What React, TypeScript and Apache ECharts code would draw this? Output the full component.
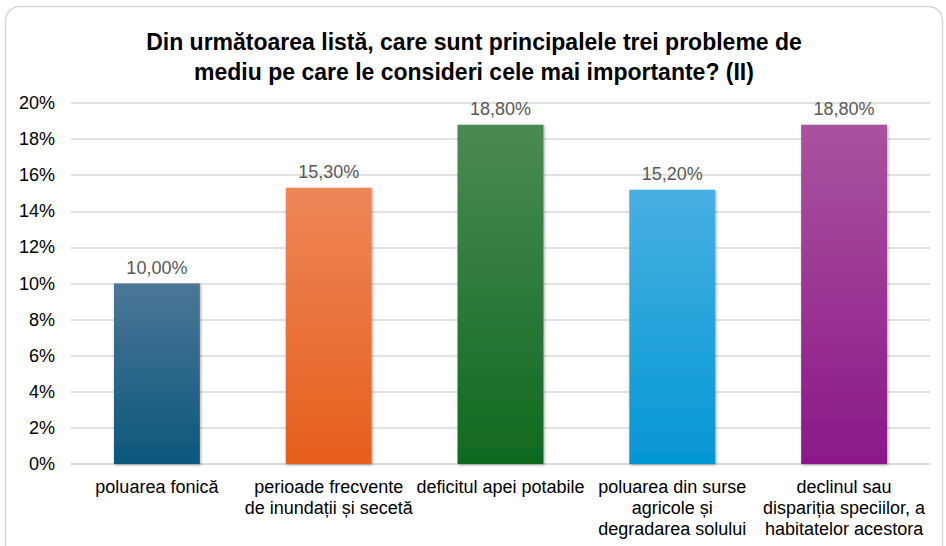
import React, { useEffect, useRef } from "react";
import * as echarts from "echarts";

const titleText = "Din următoarea listă, care sunt principalele trei probleme de\nmediu pe care le consideri cele mai importante? (II)";
const categories = [
  "poluarea fonică",
  "perioade frecvente\nde inundații și secetă",
  "deficitul apei potabile",
  "poluarea din surse\nagricole și\ndegradarea solului",
  "declinul sau\ndispariția speciilor, a\nhabitatelor acestora",
];
const values = [10.0, 15.3, 18.8, 15.2, 18.8];
const gradientTops = ["#4b7697", "#ee8658", "#4b8a53", "#48b0e2", "#aa529f"];
const gradientBottoms = ["#0b577c", "#e65f1c", "#0f6a1f", "#0497d4", "#8b1888"];

export default function App() {
  const ref = useRef<HTMLDivElement>(null);
  useEffect(() => {
    if (!ref.current) return;
    const chart = echarts.init(ref.current, null, { renderer: "svg" });
    const font = "'Liberation Sans', Arial, sans-serif";
    chart.setOption({
      animation: false,
      backgroundColor: "#ffffff",
      textStyle: { fontFamily: font },
      title: {
        text: titleText,
        left: 469,
        textAlign: "center",
        top: 22,
        textStyle: {
          fontFamily: font,
          fontSize: 23,
          fontWeight: "bold",
          color: "#000000",
          lineHeight: 30,
        },
      },
      graphic: [
        {
          type: "rect",
          shape: { x: 5.5, y: 6.5, width: 937, height: 560, r: 14 },
          style: { fill: "none", stroke: "#d9d9d9", lineWidth: 1.5 },
          silent: true,
          z: -1,
        },
      ],
      grid: { left: 71, right: 16, top: 103, bottom: 82 },
      xAxis: {
        type: "category",
        data: categories,
        axisLine: { lineStyle: { color: "#d9d9d9", width: 1.5 } },
        axisTick: { show: false },
        axisLabel: {
          interval: 0,
          fontSize: 18,
          color: "#000000",
          lineHeight: 21,
          margin: 12,
          fontFamily: font,
        },
      },
      yAxis: {
        type: "value",
        min: 0,
        max: 20,
        interval: 2,
        axisLabel: {
          formatter: (v: number) => v + "%",
          fontSize: 18,
          color: "#000000",
          margin: 16,
          fontFamily: font,
        },
        splitLine: { lineStyle: { color: "#d9d9d9", width: 1.5 } },
        axisLine: { show: false },
        axisTick: { show: false },
      },
      series: [
        {
          type: "bar",
          barWidth: "50%",
          data: values.map((v, i) => ({
            value: v,
            itemStyle: {
              color: new echarts.graphic.LinearGradient(0, 0, 0, 1, [
                { offset: 0, color: gradientTops[i] },
                { offset: 1, color: gradientBottoms[i] },
              ]),
              shadowBlur: 3,
              shadowColor: "rgba(0,0,0,0.35)",
              shadowOffsetX: 1,
              shadowOffsetY: 1,
            },
          })),
          label: {
            show: true,
            position: "top",
            distance: 7,
            fontSize: 18,
            color: "#595959",
            fontFamily: font,
            formatter: (p: any) => p.value.toFixed(2).replace(".", ",") + "%",
          },
        },
      ],
    });
    return () => chart.dispose();
  }, []);
  return (
    <div
      ref={ref}
      style={{ position: "absolute", left: 0, top: 0, width: 946, height: 546 }}
    />
  );
}
